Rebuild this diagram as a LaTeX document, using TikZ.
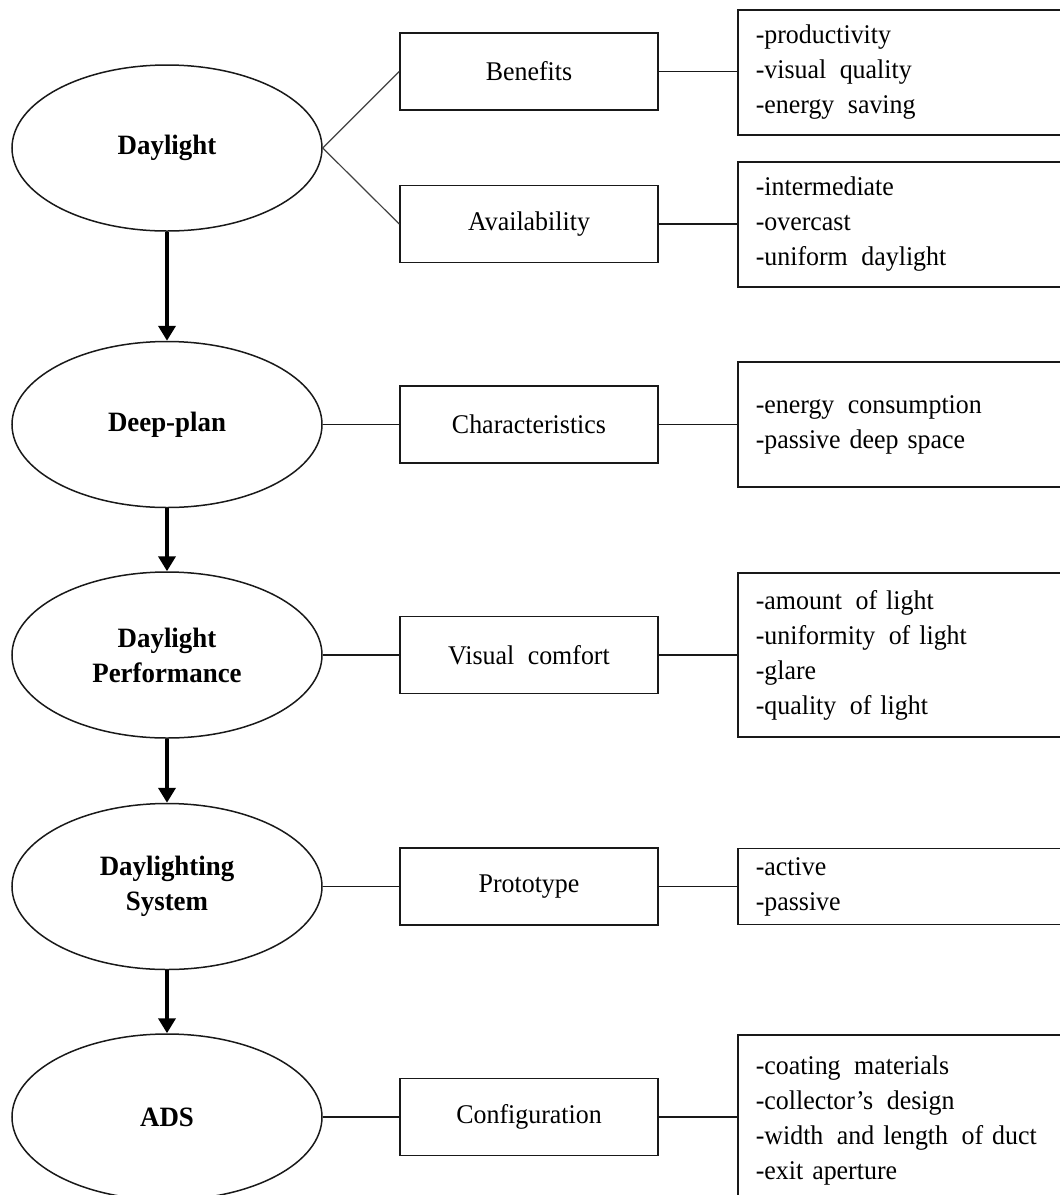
\documentclass[tikz,border=0pt]{standalone}
\usepackage{fontspec}
\setmainfont{Liberation Serif}[FakeStretch=0.96]
\usetikzlibrary{shapes.geometric,arrows.meta}
\newcommand\widegap{\hspace{0.5em}}
\begin{document}
\begin{tikzpicture}[x=1pt,y=-1pt,
  topic/.style={draw=black!90, line width=1.5pt, ellipse, minimum width=310pt,
    minimum height=166pt, inner sep=0pt, align=center,
    font=\bfseries\fontsize{28}{35}\selectfont},
  aspect/.style={draw=black!90, line width=1.5pt, rectangle, minimum width=258pt,
    minimum height=77pt, inner sep=0pt, font=\fontsize{27}{35}\selectfont},
  detail/.style={draw=black!90, line width=1.5pt, rectangle, anchor=west,
    inner xsep=18pt, inner ysep=0pt, text width=294pt, align=left,
    font=\fontsize{27}{35}\selectfont},
  link/.style={draw=black!90, line width=1.5pt},
  branch/.style={draw=black!75, line width=1.2pt},
  flow/.style={draw=black, line width=4pt, -{Triangle[width=17pt,length=15pt]}}]

\path[use as bounding box] (0,0) rectangle (1060,1195);
\clip (0,0) rectangle (1060,1195);

% main chain of topics
\node[topic] (daylight) at (167,148) {Daylight};
\node[topic] (deep)     at (167,424.5) {Deep-plan};
\node[topic] (perf)     at (167,655) {Daylight\\Performance};
\node[topic] (system)   at (167,886.5) {Daylighting\\System};
\node[topic] (ads)      at (167,1117) {ADS};

% aspects of each topic
\node[aspect] (benefits) at (529,71.5) {Benefits};
\node[aspect] (avail)    at (529,224)  {Availability};
\node[aspect] (charac)   at (529,424.5) {Characteristics};
\node[aspect] (comfort)  at (529,655) {Visual\widegap comfort};
\node[aspect] (proto)    at (529,886.5) {Prototype};
\node[aspect] (config)   at (529,1117) {Configuration};

% detail lists
\node[detail, minimum height=125pt] (dBen) at (737,72.5)
  {-productivity\\-visual\widegap quality\\-energy\widegap saving};
\node[detail, minimum height=125pt] (dAva) at (737,224.5)
  {-intermediate\\-overcast\\-uniform\widegap daylight};
\node[detail, minimum height=125pt] (dCha) at (737,424.5)
  {-energy\widegap consumption\\-passive deep space};
\node[detail, minimum height=164pt] (dCom) at (737,655)
  {-amount\widegap of light\\-uniformity\widegap of light\\-glare\\-quality\widegap of light};
\node[detail, minimum height=76pt] (dPro) at (737,886.5)
  {-active\\-passive};
\node[detail, minimum height=170pt] (dCon) at (737,1120)
  {-coating\widegap materials\\-collector’s\widegap design\\-width\widegap and length\widegap of duct\\-exit aperture};

% arrows down the chain
\draw[flow] (daylight.south) -- (deep.north);
\draw[flow] (deep.south) -- (perf.north);
\draw[flow] (perf.south) -- (system.north);
\draw[flow] (system.south) -- (ads.north);

% topic to aspect
\draw[branch] (daylight.east) -- (benefits.west);
\draw[branch] (daylight.east) -- (avail.west);
\draw[link] (deep.east) -- (charac.west);
\draw[link] (perf.east) -- (comfort.west);
\draw[link] (system.east) -- (proto.west);
\draw[link] (ads.east) -- (config.west);

% aspect to details
\draw[link] (benefits.east) -- (dBen.west |- benefits.east);
\draw[link] (avail.east) -- (dAva.west |- avail.east);
\draw[link] (charac.east) -- (dCha.west |- charac.east);
\draw[link] (comfort.east) -- (dCom.west |- comfort.east);
\draw[link] (proto.east) -- (dPro.west |- proto.east);
\draw[link] (config.east) -- (dCon.west |- config.east);
\end{tikzpicture}
\end{document}
